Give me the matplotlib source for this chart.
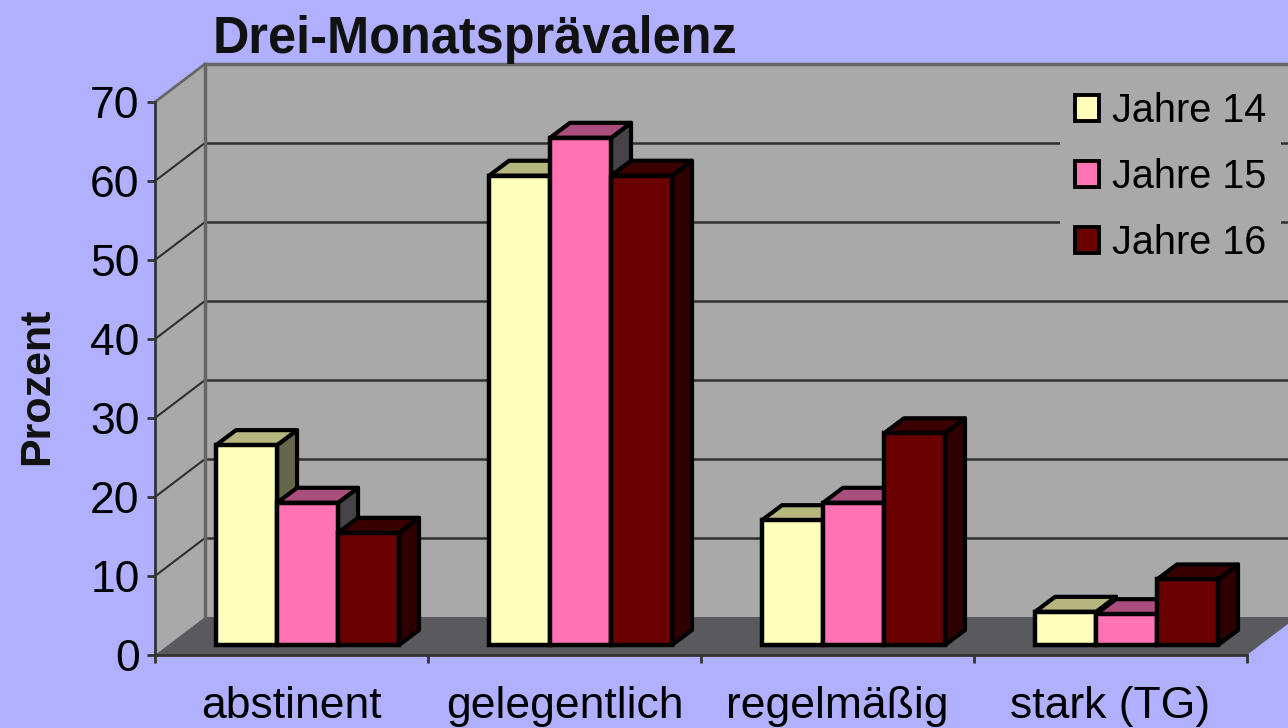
import matplotlib
matplotlib.use('Agg')
import matplotlib.pyplot as plt
import numpy as np
from matplotlib.patches import Polygon, Patch
from matplotlib.transforms import Affine2D, IdentityTransform

plt.rcParams['font.family'] = ['Liberation Sans', 'DejaVu Sans']

categories = ['abstinent', 'gelegentlich', 'regelmäßig', 'stark (TG)']
series_names = ['Jahre 14', 'Jahre 15', 'Jahre 16']
jahre_14 = [25.3, 59.4, 15.8, 4.2]
jahre_15 = [18.0, 64.2, 18.0, 3.9]
jahre_16 = [14.2, 59.4, 26.8, 8.3]
y_ticks = [0, 10, 20, 30, 40, 50, 60, 70]

front_colors = ['#FFFFBB', '#FF73B4', '#6B0000']
top_colors = ['#B6B67F', '#AA4F7D', '#3A0000']
side_colors = ['#66664B', '#47424A', '#2E0000']

W, H = 1288, 728
BG = '#B0B0FF'
WALL = '#A9A9A9'
FLOOR = '#5A5A5E'

# 3d look, all in pixels
wall_dx, wall_dy = 50, 38
base_dx, base_dy = 13, 10
bar_dx, bar_dy = 20, 15
bar_w = 0.2234
bar_start = 0.176

fig = plt.figure(figsize=(W / 100, H / 100), dpi=100, facecolor=BG)
ax = fig.add_axes([155 / W, 1 - 655 / H, (1247 - 155) / W, (655 - 102) / H])
ax.set_xlim(0, 4)
ax.set_ylim(0, 70)
ax.patch.set_visible(False)


def shift(dx, dy):
    return ax.transData + Affine2D().translate(dx, dy)


def face(points, color, z, lw=0, edge='black'):
    # points are (x, y, dx, dy): data position plus a pixel offset
    xy = ax.transData.transform([(p[0], p[1]) for p in points])
    xy = xy + np.array([(p[2], p[3]) for p in points])
    ax.add_patch(Polygon(xy, closed=True, facecolor=color, edgecolor=edge, linewidth=lw,
                         transform=IdentityTransform(), clip_on=False, zorder=z, joinstyle='round'))


# walls and floor
face([(0, 0, wall_dx, wall_dy), (0, 70, wall_dx, wall_dy), (4, 70, wall_dx, wall_dy), (4, 0, wall_dx, wall_dy)], WALL, 1)
face([(0, 0, 0, 0), (0, 70, 0, 0), (0, 70, wall_dx, wall_dy), (0, 0, wall_dx, wall_dy)], WALL, 1)
face([(0, 0, 0, 0), (4, 0, 0, 0), (4, 0, wall_dx, wall_dy), (0, 0, wall_dx, wall_dy)], FLOOR, 1.5)

# gridlines on back wall and side wall
back = shift(wall_dx, wall_dy)
for v in y_ticks[1:-1]:
    ax.plot([0, 4], [v, v], color='#303030', lw=1.8, transform=back, clip_on=False, zorder=2)
    a = ax.transData.transform((0, v))
    ax.plot([a[0], a[0] + wall_dx], [a[1], a[1] + wall_dy], color='#303030', lw=1.5,
            transform=IdentityTransform(), clip_on=False, zorder=2)
ax.plot([0, 0], [0, 70], color='#666666', lw=2.5, transform=back, clip_on=False, zorder=2)
ax.plot([0, 4], [70, 70], color='#666666', lw=2.5, transform=back, clip_on=False, zorder=2)
a = ax.transData.transform((0, 70))
ax.plot([a[0], a[0] + wall_dx], [a[1], a[1] + wall_dy], color='#666666', lw=2,
        transform=IdentityTransform(), clip_on=False, zorder=2)

# bars, left to right so the later ones overlap
z = 3
for i in range(len(categories)):
    for j, vals in enumerate([jahre_14, jahre_15, jahre_16]):
        x0 = i + bar_start + j * bar_w
        x1 = x0 + bar_w
        v = vals[i]
        d0 = (base_dx, base_dy)
        d1 = (base_dx + bar_dx, base_dy + bar_dy)
        face([(x1, 0, *d0), (x1, 0, *d1), (x1, v, *d1), (x1, v, *d0)], side_colors[j], z, lw=3.0)
        face([(x0, v, *d0), (x1, v, *d0), (x1, v, *d1), (x0, v, *d1)], top_colors[j], z, lw=3.0)
        ax.bar(x0, v, width=bar_w, align='edge', color=front_colors[j], edgecolor='black', linewidth=3.2,
               transform=shift(*d0), clip_on=False, zorder=z)
        z += 1

# axes
for s in ['top', 'right']:
    ax.spines[s].set_visible(False)
for s in ['left', 'bottom']:
    ax.spines[s].set_color('#333333')
    ax.spines[s].set_linewidth(2)
    ax.spines[s].set_zorder(30)
ax.set_yticks(y_ticks)
ax.set_yticklabels([str(t) for t in y_ticks])
ax.set_xticks(range(5))
ax.set_xticklabels([])
ax.set_xticks(np.arange(4) + 0.5, categories, minor=True)
ax.tick_params(axis='y', labelsize=32, length=6, width=2, color='#333333', pad=5)
ax.tick_params(axis='x', which='major', length=6, width=2, color='#333333')
ax.tick_params(axis='x', which='minor', labelsize=32, length=0, pad=22)

fig.text(37.5 / W, 1 - 386 / H, 'Prozent', rotation=90, fontsize=31, fontweight='bold',
         ha='center', va='center', color='#111111')
fig.text(213 / W, 1 - 39 / H, 'Drei-Monatsprävalenz', fontsize=36.4, fontweight='bold',
         ha='left', va='center', color='#111111')

handles = [Patch(facecolor=c, edgecolor='black', linewidth=2.8) for c in front_colors]
leg = ax.legend(handles, series_names, loc='upper left', bbox_to_anchor=(1060 / W, 1 - 77 / H),
                bbox_transform=fig.transFigure, fontsize=28.5, frameon=True, facecolor=WALL, edgecolor='none',
                fancybox=False, framealpha=1, handlelength=0.62, handleheight=0.62, handletextpad=0.32,
                labelspacing=0.71, borderpad=0.375, borderaxespad=0)
leg.set_zorder(2.5)

fig.savefig('out.png', dpi=100, facecolor=BG)
